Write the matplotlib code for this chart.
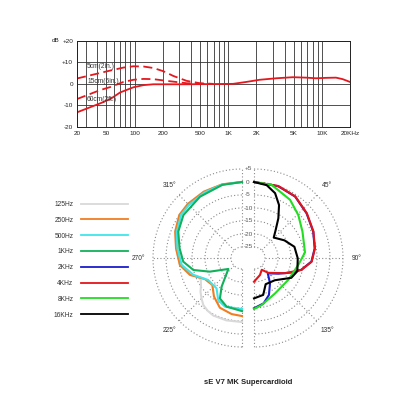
import numpy as np
import matplotlib
matplotlib.use('Agg')
import matplotlib.pyplot as plt
from matplotlib.lines import Line2D

plt.rcParams['font.family'] = ['Liberation Sans', 'DejaVu Sans']

# ---- frequency response (top) ----
freq_60cm = [24.3, 43, 55, 70.3, 97.4, 124.4, 158.9, 360, 691, 1128, 1565, 2168,
             3257, 4900, 6800, 8680, 11100, 14170, 16700, 19970]
db_60cm = [-13.3, -9.1, -7.1, -4.0, -1.6, -0.6, -0.2, -0.2, -0.1, 0, 0.9, 1.9,
           2.6, 3.1, 2.9, 2.6, 2.8, 2.9, 2.2, 0.9]
freq_15cm = [24.3, 43, 55, 76.2, 97.4, 124.4, 158.9, 220, 360, 587, 691]
db_15cm = [-7.1, -2.9, -1.5, 0.9, 1.9, 2.3, 2.2, 1.4, 0.3, -0.1, -0.1]
freq_5cm = [24.3, 43, 55, 76.2, 97.4, 124.4, 158.9, 203, 259, 360, 498, 691]
db_5cm = [2.5, 5.1, 6.2, 7.6, 8.2, 8.1, 7.4, 5.9, 3.7, 1.4, 0.3, 0]

x_ticks = [24.3, 50, 100, 200, 500, 1000, 2000, 5000, 10000, 20000]
x_tick_labels = ['20', '50', '100', '200', '500', '1K', '2K', '5K', '10K', '20KHz']
y_ticks = [-20, -10, 0, 10, 20]
y_tick_labels = ['-20', '-10', '0', '+10', '+20']

# ---- polar pattern (bottom), angle in degrees from front, level in dB ----
# left half (angle measured from 0 towards 270)
ang_125 = [0, 15, 30, 45, 55.5, 68.4, 81.7, 96.4, 108, 113, 118, 124, 129, 135, 140.6, 147, 153.6, 166, 180]
db_125 = [0, 0.1, 0.2, 0.2, 0, -1.6, -3.6, -5.2, -8.2, -10.8, -11.3, -10.2, -8.7, -7.2, -5.8, -5.0, -4.5, -4.5, -4.6]
ang_250 = [0, 15, 30, 45, 55.5, 68.4, 81.7, 96.4, 108, 119.6, 132.3, 144, 156, 169.5, 180]
db_250 = [0, 0.1, 0.2, 0.2, 0, -1.6, -3.6, -5.2, -8.2, -12.8, -13.8, -10.9, -8.3, -7.3, -6.9]
ang_500 = [0, 15, 30, 45, 54.5, 68, 81.5, 96.6, 109, 123, 140, 150.6, 160.7, 180]
db_500 = [0, 0, -0.2, -0.4, -0.5, -2.2, -4.1, -5.9, -9.4, -13.7, -14.0, -10.6, -9.4, -9.6]
ang_1k = [0, 15, 34.4, 53.8, 67.5, 81, 93.6, 103.9, 113, 128.8, 144.6, 151.4, 162.5, 180]
db_1k = [0, -0.1, -0.65, -1.3, -2.7, -4.9, -6.6, -10, -15.8, -22.5, -15.7, -11.5, -9.6, -8.8]
# right half (angle measured from 0 towards 90)
ang_2k = [0, 18.6, 33.8, 49.7, 66, 81, 93.6, 104, 111, 122.8, 138, 147.7, 158, 168, 180]
db_2k = [0, -0.1, -0.8, -2.7, -4.3, -5.6, -7.1, -10.5, -13.7, -18.1, -21.3, -17.7, -13.9, -11.4, -9.9]
ang_4k = [0, 18.6, 33.8, 49.7, 66, 81, 93.6, 104, 116, 136, 146.7, 160.6, 180]
db_4k = [0, 0, -0.7, -2.6, -4.2, -5.5, -7.0, -10.4, -15.9, -21.3, -23.8, -22.3, -20.1]
ang_8k = [0, 13.6, 31.8, 45.9, 61.4, 83.7, 99, 122.6, 149, 170.7, 180]
db_8k = [0, -0.3, -2.9, -5.5, -8.0, -9.5, -12.0, -13.6, -13.4, -10.9, -9.6]
ang_16k = [0, 9.9, 18, 25.3, 31.5, 37.7, 44, 59.9, 74.5, 90.4, 107, 118, 136.8, 156, 166, 180]
db_16k = [0, -0.8, -3.0, -6.7, -11.3, -15.6, -18.3, -15.7, -13.1, -12.4, -11.8, -13.0, -17.5, -18.2, -14.6, -13.7]

ring_db = [5, 0, -5, -10, -15, -20, -25]

red = '#e3191f'
fig = plt.figure(figsize=(4.16, 4.16), dpi=100)

# top chart
ax1 = fig.add_axes([77 / 416, 1 - 126.7 / 416, 273 / 416, 85.7 / 416])
ax1.set_xscale('log')
ax1.plot(freq_60cm, db_60cm, color=red, lw=1.3)
ax1.plot(freq_15cm, db_15cm, color=red, lw=1.3, ls=(0, (5, 2.5)))
ax1.plot(freq_5cm, db_5cm, color=red, lw=1.3, ls=(0, (5, 2.5)))
ax1.set_xlim(24.3, 20000)
ax1.set_ylim(-20, 20)
ax1.set_xticks(x_ticks, x_tick_labels)
minor = [30, 40, 60, 70, 80, 90, 300, 400, 600, 700, 800, 900,
         3000, 4000, 6000, 7000, 8000, 9000]
ax1.set_xticks(minor, minor=True)
ax1.set_xticklabels([], minor=True)
ax1.set_yticks(y_ticks, y_tick_labels)
ax1.tick_params(which='both', length=0, labelsize=4.6, pad=2.8, colors='#222222')
ax1.grid(which='both', color='#333333', lw=0.6)
for s in ax1.spines.values():
    s.set_color('#222222')
    s.set_linewidth(0.7)
fig.text(52 / 416, 1 - 41 / 416, 'dB', fontsize=4.6, va='center', color='#222222')
for ypos, txt in [(0.697, '5cm(2in.)'), (0.522, '15cm(6in.)'), (0.323, '60cm(2ft.)')]:
    ax1.text(0.037, ypos, txt, transform=ax1.transAxes, fontsize=4.8, va='center', color='#333333')

# polar halves
R = 89
r_origin = -76 / 2.6
cy = 258
grid_kw = dict(color='#8a8a8a', linestyle=(0, (1, 2)), linewidth=0.8)


def make_half(cx, side):
    if side == 'right':
        left = cx - R / 2
        t0, t1 = 0, 180
    else:
        left = cx - 1.5 * R
        t0, t1 = 180, 360
    ax = fig.add_axes([left / 416, (416 - cy - R) / 416, 2 * R / 416, 2 * R / 416],
                      projection='polar')
    ax.set_theta_zero_location('N')
    ax.set_theta_direction(-1)
    ax.set_thetamin(t0)
    ax.set_thetamax(t1)
    ax.set_xticks(np.deg2rad([t0 + 45, t0 + 90, t0 + 135]))
    ax.set_rlim(-25, 5)
    ax.set_rorigin(r_origin)
    ax.set_yticks(ring_db[1:-1])
    ax.set_xticklabels([])
    ax.set_yticklabels([])
    ax.tick_params(length=0)
    ax.grid(True, **grid_kw)
    # polar axes switch their spines back on when drawing, so make them blank
    for s in ax.spines.values():
        s.set_edgecolor('none')
        s.set_linewidth(0)
    # dotted frame: outer and inner ring, front and back edges
    arc = np.deg2rad(np.arange(t0, t1 + 1, 2))
    ax.plot(arc, np.full(arc.size, 5.0), clip_on=False, **grid_kw)
    ax.plot(arc, np.full(arc.size, -25.0), clip_on=False, **grid_kw)
    for t in (t0, t1):
        ax.plot([np.deg2rad(t)] * 2, [-25, 5], clip_on=False, **grid_kw)
    ax.set_facecolor('none')
    return ax


axl = make_half(242, 'left')
axr = make_half(254, 'right')

left_series = [(ang_125, db_125, '#d9d9d9', '125Hz'),
               (ang_250, db_250, '#f07d21', '250Hz'),
               (ang_500, db_500, '#3ee6ec', '500Hz'),
               (ang_1k, db_1k, '#12b05a', '1KHz')]
right_series = [(ang_2k, db_2k, '#1c1ccc', '2KHz'),
                (ang_4k, db_4k, '#e3141a', '4KHz'),
                (ang_8k, db_8k, '#22dd22', '8KHz'),
                (ang_16k, db_16k, '#000000', '16KHz')]

handles = []
for ang, db, col, lab in left_series:
    axl.plot(np.deg2rad(360 - np.array(ang)), db, color=col, lw=1.5, clip_on=False)
    handles.append(Line2D([], [], color=col, lw=1.3, label=lab))
for ang, db, col, lab in right_series:
    axr.plot(np.deg2rad(ang), db, color=col, lw=1.5, clip_on=False)
    handles.append(Line2D([], [], color=col, lw=1.3, label=lab))

# ring labels in the gap
for d in ring_db:
    lab = '+%d' % d if d > 0 else '%d' % d
    axr.annotate(lab, xy=(0, d), xytext=(-4.3, 0), textcoords='offset points',
                 ha='center', va='center', fontsize=4.6, color='#555555')

lab_r = 10.4
for a in [45, 90, 135]:
    axr.text(np.deg2rad(a), lab_r, '%d°' % a, ha='center', va='center', fontsize=4.8, color='#333333')
for a in [225, 270, 315]:
    axl.text(np.deg2rad(a), lab_r, '%d°' % a, ha='center', va='center', fontsize=4.8, color='#333333')
axr.annotate('0°', xy=(0, lab_r), xytext=(-4.3, 0), textcoords='offset points',
             ha='center', va='center', fontsize=4.8, color='#333333')
axr.annotate('180°', xy=(np.pi, lab_r + 1.5), xytext=(-4.3, 0), textcoords='offset points',
             ha='center', va='center', fontsize=4.8, color='#333333')

fig.text(248 / 416, 1 - 383 / 416, 'sE V7 MK Supercardioid', ha='center', va='center',
         fontsize=5.5, weight='bold', color='#222222')

fig.legend(handles=handles, loc='upper right', bbox_to_anchor=(128 / 416, 1 - 201 / 416),
           frameon=False, markerfirst=False, fontsize=4.8, handlelength=7.0,
           handletextpad=1.2, labelspacing=1.32, borderpad=0, borderaxespad=0,
           labelcolor='#333333')

fig.savefig('out.png', dpi=100)
